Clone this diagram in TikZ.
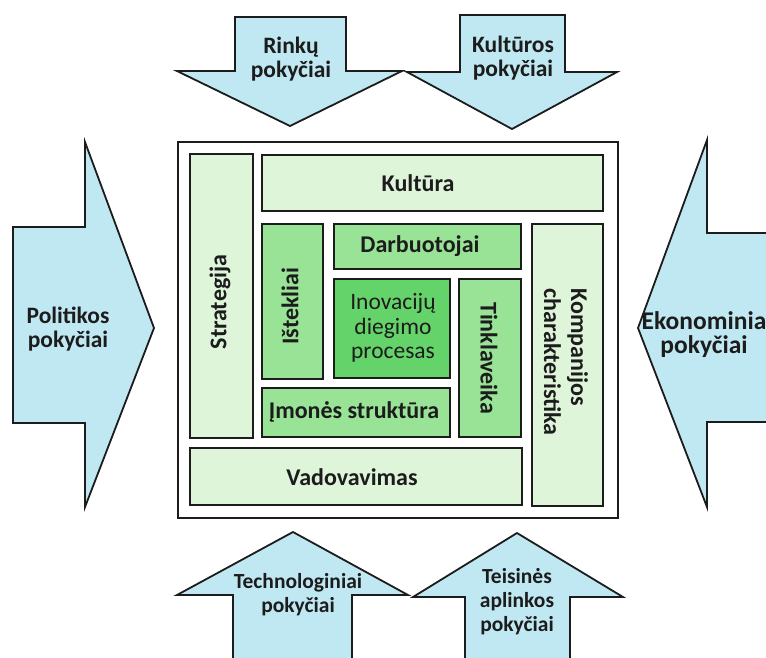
\documentclass[tikz,border=0pt]{standalone}
\usepackage{fontspec}
\setmainfont{Carlito}
\definecolor{sky}{RGB}{192,232,242}
\definecolor{paleg}{RGB}{223,245,218}
\definecolor{midg}{RGB}{153,227,151}
\definecolor{deepg}{RGB}{100,212,106}
\definecolor{ink}{RGB}{28,28,28}
\begin{document}
\begin{tikzpicture}[x=1pt,y=-1pt,
  outline/.style={draw=ink, line width=1.8pt, line join=miter},
  bigarrow/.style={outline, fill=sky},
  frame/.style={outline, fill=white, rectangle, anchor=north west, inner sep=0pt},
  palebox/.style={outline, fill=paleg, rectangle, anchor=north west, inner sep=0pt},
  midbox/.style={outline, fill=midg, rectangle, anchor=north west, inner sep=0pt},
  deepbox/.style={outline, fill=deepg, rectangle, anchor=north west, inner sep=0pt},
  lbl/.style={inner sep=0pt, align=center, text=ink, font=\bfseries\fontsize{24}{27}\selectfont},
  lblreg/.style={inner sep=0pt, align=center, text=ink, font=\fontsize{23.5}{24.5}\selectfont},
  albl/.style={inner sep=0pt, align=center, text=ink, font=\bfseries\fontsize{23.5}{24}\selectfont},
  blbl/.style={inner sep=0pt, align=center, text=ink, font=\bfseries\fontsize{21.5}{24}\selectfont}]
\clip (0,0) rectangle (766,657);
\fill[white] (0,0) rectangle (766,657);

% --- external pressure arrows ---
% top: market changes
\draw[bigarrow] (235,17) -- (346,17) -- (346,71) -- (402,71) -- (290,126)
  -- (177,71) -- (235,71) -- cycle;
% top: culture changes
\draw[bigarrow] (460,15) -- (565,15) -- (565,72) -- (617,72) -- (512,129)
  -- (407,72) -- (460,72) -- cycle;
% left: political changes
\draw[bigarrow] (13,227) -- (85,227) -- (85,142) -- (154,328) -- (85,507)
  -- (85,423) -- (13,423) -- cycle;
% right: economic changes
\draw[bigarrow] (775,233) -- (707,233) -- (707,140) -- (638,328) -- (707,507)
  -- (707,422) -- (775,422) -- cycle;
% bottom: technological changes
\draw[bigarrow] (233,665) -- (233,595) -- (177,595) -- (293,532) -- (408,595)
  -- (352,595) -- (352,665) -- cycle;
% bottom: legal environment changes
\draw[bigarrow] (465,665) -- (465,597) -- (413,597) -- (517,533) -- (623,597)
  -- (570,597) -- (570,665) -- cycle;

\node[albl] (trinku) at (291,59) {Rinkų\\pokyčiai};
\node[albl] (tkult) at (513,58) {Kultūros\\pokyčiai};
\node[albl] (tpolit) at (68,329) {Politikos\\pokyčiai};
\node[albl, font=\bfseries\fontsize{25.5}{24}\selectfont] (tekon) at (704,335) {Ekonominia\\pokyčiai};
\node[blbl] (ttech) at (298,595) {Technologiniai\\pokyčiai};
\node[blbl] (tteis) at (517,602) {Teisinės\\aplinkos\\pokyčiai};

% --- organisation frame ---
\node[frame, minimum width=440pt, minimum height=376pt] (org) at (177,141) {};
\node[palebox, minimum width=63pt, minimum height=284pt] (strategija) at (189,153) {};
\node[palebox, minimum width=341pt, minimum height=56pt] (kultura) at (261,154) {};
\node[midbox, minimum width=61pt, minimum height=155pt] (istekliai) at (261,223) {};
\node[midbox, minimum width=187pt, minimum height=45pt] (darbuotojai) at (333,223) {};
\node[deepbox, minimum width=116pt, minimum height=99pt] (inovacijos) at (333,278) {};
\node[midbox, minimum width=62pt, minimum height=158pt] (tinklaveika) at (458,278) {};
\node[midbox, minimum width=188pt, minimum height=49pt] (struktura) at (261,387) {};
\node[palebox, minimum width=332pt, minimum height=57pt] (vadovavimas) at (189,447) {};
\node[palebox, minimum width=71pt, minimum height=282pt] (kompanija) at (531,223) {};

% --- box captions ---
\node[lbl, rotate=90] (lstrat) at (220,302) {Strategija};
\node[lbl] (lkult) at (418,183) {Kultūra};
\node[lbl, rotate=90] (listek) at (290,306) {Ištekliai};
\node[lbl] (ldarb) at (420,246) {Darbuotojai};
\node[lblreg] (linov) at (393,328) {Inovacijų\\diegimo\\procesas};
\node[lbl, rotate=-90] (ltinkl) at (489,358) {Tinklaveika};
\node[lbl] (lstrukt) at (354,412) {Įmonės struktūra};
\node[lbl] (lvad) at (352,477) {Vadovavimas};
\node[lbl, rotate=-90, align=left] (lkomp) at (566,362) {Kompanijos\\charakteristika};
\end{tikzpicture}
\end{document}
